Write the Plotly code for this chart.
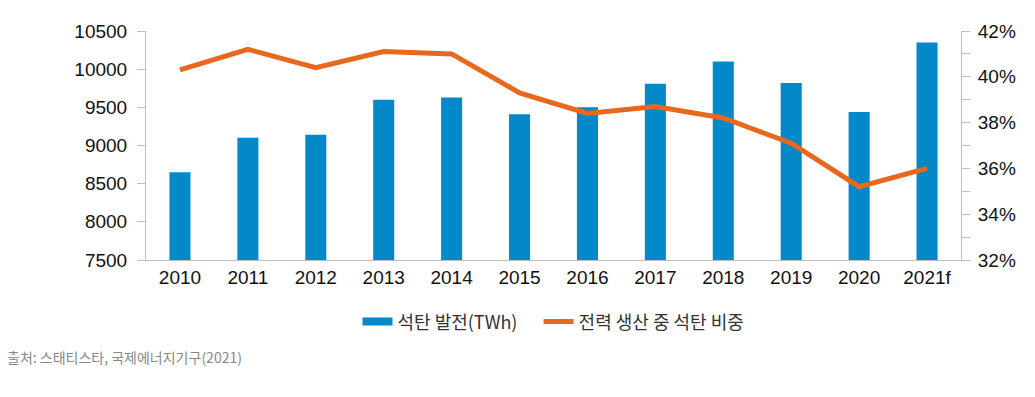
import plotly.graph_objects as go

years = ["2010", "2011", "2012", "2013", "2014", "2015", "2016", "2017", "2018", "2019", "2020", "2021f"]
coal_gen_twh = [8650, 9100, 9140, 9600, 9630, 9410, 9500, 9810, 10100, 9820, 9440, 10350]
coal_share = [0.403, 0.412, 0.404, 0.411, 0.410, 0.393, 0.384, 0.387, 0.382, 0.371, 0.352, 0.360]

bar_name = "석탄 발전(TWh)"
line_name = "전력 생산 중 석탄 비중"
source_text = "출처: 스태티스타, 국제에너지기구(2021)"

BLUE = "#0388C8"
ORANGE = "#E8681E"
AXIS = "#BFBFBF"
TXT = "#111111"
FONT = "Liberation Sans, Arial, Noto Sans CJK KR, sans-serif"
KFONT = "Noto Sans CJK KR, sans-serif"

# page offset of 8px (body margin) compensated in margins
L, T = 138, 23
fig = go.Figure()
fig.add_trace(go.Bar(x=years, y=coal_gen_twh, name=bar_name, marker=dict(color=BLUE, line=dict(width=0)),
                     width=0.31, yaxis="y", showlegend=False))
# legend swatch for the bar series (wide rectangle like the reference)
fig.add_trace(go.Scatter(x=[None], y=[None], name=bar_name + "\u00a0\u00a0\u00a0\u00a0", mode="lines",
                         line=dict(color=BLUE, width=8), yaxis="y", showlegend=True))
fig.add_trace(go.Scatter(x=years, y=coal_share, name=line_name, mode="lines",
                         line=dict(color=ORANGE, width=5), yaxis="y2"))

fig.update_layout(
    width=1035, height=397,
    margin=dict(l=L, r=82, t=T, b=145),
    paper_bgcolor="white", plot_bgcolor="white",
    font=dict(family=FONT, size=19, color=TXT),
    showlegend=True,
    legend=dict(orientation="h", x=0.5, xanchor="center", y=-0.27, yanchor="middle",
                font=dict(family=KFONT, size=18, color="#333333"),
                itemwidth=30, tracegroupgap=0, bgcolor="rgba(0,0,0,0)"),
    xaxis=dict(showgrid=False, showline=True, linecolor=AXIS, linewidth=1, ticks="",
               tickfont=dict(size=19, color=TXT), zeroline=False),
    yaxis=dict(range=[7500, 10500], dtick=500, tick0=7500, showgrid=False, zeroline=False,
               showline=True, linecolor=AXIS, linewidth=1, ticks="outside", ticklen=8,
               tickcolor=AXIS, tickfont=dict(size=19, color=TXT), tickformat="d",
               ticklabelstandoff=6),
    yaxis2=dict(range=[0.32, 0.42], dtick=0.02, tick0=0.32, overlaying="y", side="right",
                showgrid=False, zeroline=False, showline=True, linecolor=AXIS, linewidth=1,
                ticks="outside", ticklen=8, tickcolor=AXIS, tickformat=".0%",
                tickfont=dict(size=19, color=TXT), ticklabelstandoff=4,
                minor=dict(dtick=0.01, ticks="outside", ticklen=8, tickcolor=AXIS, showgrid=False)),
    annotations=[dict(text=source_text, xref="paper", yref="paper", x=-0.173, y=-0.424,
                      xanchor="left", yanchor="middle", showarrow=False,
                      font=dict(family=KFONT, size=14, color="#888888"))],
)

fig.write_html("out.html")
